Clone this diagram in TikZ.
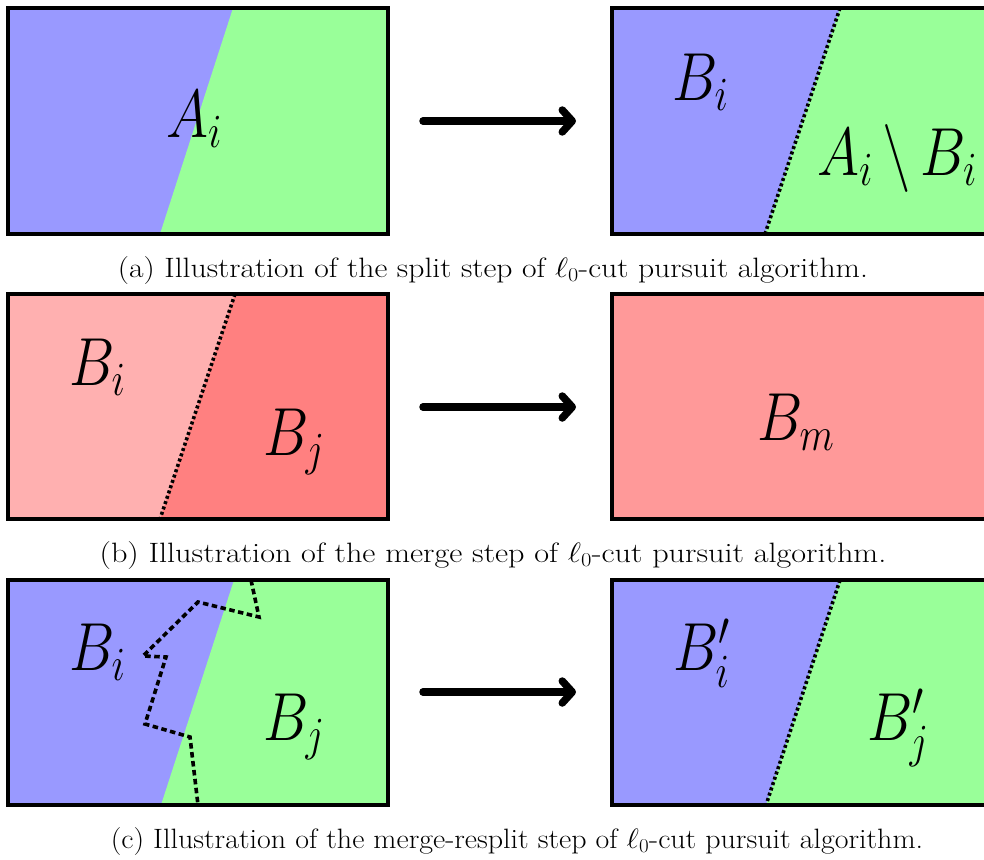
\RequirePackage{fix-cm}
\documentclass[tikz,border=0pt]{standalone}
\usepackage{amsmath,amssymb}
\usepackage{xcolor}
\usepackage{tikz}
\usetikzlibrary{arrows.meta}
\definecolor{cutblue}{HTML}{9999FF}
\definecolor{cutgreen}{HTML}{99FF99}
\definecolor{mergelight}{HTML}{FFB0B0}
\definecolor{mergedark}{HTML}{FF8080}
\definecolor{mergedone}{HTML}{FF9999}
\newcommand{\regiontext}[1]{\scalebox{0.84}[1]{$#1$}}
\newcommand{\captext}[2]{\scalebox{#1}[1]{#2}}
\tikzset{
every picture/.style={line cap=round,line join=round},
panel frame/.style={draw=black, line width=4pt, line join=miter},
cut line/.style={draw=black, line width=3.6pt, line cap=butt, dash pattern=on 3pt off 2.6pt},
rough cut/.style={cut line, line join=miter, dash pattern=on 5.5pt off 3.5pt},
step arrow/.style={draw=black, line width=7.5pt, -{Straight Barb[round,length=10pt,width=22pt]}},
region label/.style={font=\fontsize{68}{80}\selectfont, inner sep=0pt, anchor=base west},
fig caption/.style={font=\fontsize{28}{32}\selectfont, inner sep=0pt, anchor=base}
}
\begin{document}
\begin{tikzpicture}[x=1pt,y=-1pt]
\useasboundingbox (0,0) rectangle (984,859);
\clip (0,0) rectangle (984,859);
% (a) split step
\fill[cutblue] (8,8) rectangle (388,234);
\fill[cutgreen] (233,8) -- (388,8) -- (388,234) -- (160,234) -- cycle;
\draw[panel frame] (8,8) rectangle (388,234);
\node[region label] (ai) at (166,137) {\regiontext{A_i}};
\fill[cutblue] (612,8) rectangle (994,234);
\fill[cutgreen] (840,8) -- (994,8) -- (994,234) -- (765,234) -- cycle;
\draw[cut line] (840,8) -- (765,234);
\draw[panel frame] (612,8) rectangle (994,234);
\node[region label] (bi a) at (672,100) {\regiontext{B_i}};
\node[region label] (ai bi) at (817,175) {\regiontext{A_i\,\backslash\,B_i}};
\coordinate (arr a1) at (423,121);
\coordinate (arr a2) at (576,121);
\draw[step arrow] (arr a1) -- (arr a2);
\node[fig caption] (cap a) at (493,277) {\captext{1.13}{(a) Illustration of the split step of $\ell_0$-cut pursuit algorithm.}};
% (b) merge step
\fill[mergelight] (8,294) rectangle (388,519);
\fill[mergedark] (235,294) -- (388,294) -- (388,519) -- (160,519) -- cycle;
\draw[cut line] (235,294) -- (160,519);
\draw[panel frame] (8,294) rectangle (388,519);
\node[region label] (bi b) at (69,385) {\regiontext{B_i}};
\node[region label] (bj b) at (263,455) {\regiontext{B_j}};
\fill[mergedone] (612,294) rectangle (994,519);
\draw[panel frame] (612,294) rectangle (994,519);
\node[region label] (bm) at (757,440) {\regiontext{B_m}};
\coordinate (arr b1) at (423,407);
\coordinate (arr b2) at (576,407);
\draw[step arrow] (arr b1) -- (arr b2);
\node[fig caption] (cap b) at (493,562) {\captext{1.15}{(b) Illustration of the merge step of $\ell_0$-cut pursuit algorithm.}};
% (c) merge-resplit step
\fill[cutblue] (8,580) rectangle (388,805);
\fill[cutgreen] (234,580) -- (388,580) -- (388,805) -- (161,805) -- cycle;
\draw[rough cut] (251,580) -- (259,617) -- (198,602) -- (143,656) -- (166,657)
  -- (145,724) -- (190,737) -- (198,805);
\draw[panel frame] (8,580) rectangle (388,805);
\node[region label] (bi c) at (69,670) {\regiontext{B_i}};
\node[region label] (bj c) at (263,740) {\regiontext{B_j}};
\fill[cutblue] (612,580) rectangle (994,805);
\fill[cutgreen] (840,580) -- (994,580) -- (994,805) -- (766,805) -- cycle;
\draw[cut line] (840,580) -- (766,805);
\draw[panel frame] (612,580) rectangle (994,805);
\node[region label] (bpi) at (673,670) {\regiontext{B_i'}};
\node[region label] (bpj) at (867,740) {\regiontext{B_j'}};
\coordinate (arr c1) at (423,692);
\coordinate (arr c2) at (576,692);
\draw[step arrow] (arr c1) -- (arr c2);
\node[fig caption] (cap c) at (517,848) {\captext{1.07}{(c) Illustration of the merge-resplit step of $\ell_0$-cut pursuit algorithm.}};
\end{tikzpicture}
\end{document}
